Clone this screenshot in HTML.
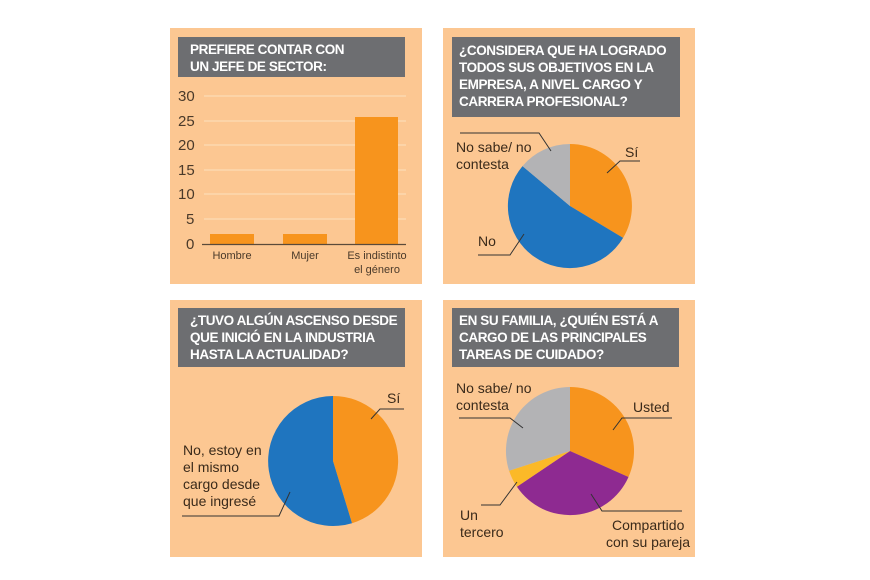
<!DOCTYPE html>
<html><head><meta charset="utf-8"><style>
body{margin:0;background:#fff;width:870px;height:580px;overflow:hidden}
svg{display:block}
text{font-family:"Liberation Sans",sans-serif}
.t{fill:#fff;font-weight:bold;font-size:13.5px;letter-spacing:-0.4px}
.l{fill:#3a2a1a;font-size:14px}
.a{fill:#4a3a2a;font-size:15px}
.s{fill:#4a3a2a;font-size:11px}
</style></head><body>
<svg id="s" width="870" height="580" xmlns="http://www.w3.org/2000/svg">
<rect width="870" height="580" fill="#fff"/>
<rect x="170" y="28" width="252" height="256" fill="#fcc792"/>
<rect x="443" y="28" width="252" height="256" fill="#fcc792"/>
<rect x="170" y="300" width="252" height="257" fill="#fcc792"/>
<rect x="443" y="300" width="252" height="257" fill="#fcc792"/>
<!-- panel 1 -->
<rect x="178" y="37" width="227" height="40" fill="#6d6e71"/>
<text class="t" x="190" y="54">PREFIERE CONTAR CON</text>
<text class="t" x="190" y="71">UN JEFE DE SECTOR:</text>
<g stroke="#fde0bd" stroke-width="1">
<line x1="204" y1="96" x2="406" y2="96"/><line x1="204" y1="121" x2="406" y2="121"/>
<line x1="204" y1="145" x2="406" y2="145"/><line x1="204" y1="170" x2="406" y2="170"/>
<line x1="204" y1="194" x2="406" y2="194"/><line x1="204" y1="219" x2="406" y2="219"/>
</g>
<text class="a" x="178" y="101">30</text><text class="a" x="178" y="126">25</text>
<text class="a" x="178" y="150">20</text><text class="a" x="178" y="175">15</text>
<text class="a" x="178" y="199">10</text><text class="a" x="186" y="224">5</text>
<text class="a" x="186" y="249">0</text>
<rect x="210" y="234" width="44" height="10" fill="#f7941d"/>
<rect x="283" y="234" width="44" height="10" fill="#f7941d"/>
<rect x="355" y="117" width="43" height="127" fill="#f7941d"/>
<line x1="202" y1="244.5" x2="406" y2="244.5" stroke="#5a4a3a" stroke-width="1.2"/>
<text class="s" x="232" y="259" text-anchor="middle">Hombre</text>
<text class="s" x="305" y="259" text-anchor="middle">Mujer</text>
<text class="s" x="377" y="259" text-anchor="middle">Es indistinto</text>
<text class="s" x="377" y="273" text-anchor="middle">el género</text>
<!-- panel 2 -->
<rect x="452" y="37" width="228" height="80" fill="#6d6e71"/>
<text class="t" x="459" y="55">¿CONSIDERA QUE HA LOGRADO</text>
<text class="t" x="459" y="72">TODOS SUS OBJETIVOS EN LA</text>
<text class="t" x="459" y="89">EMPRESA, A NIVEL CARGO Y</text>
<text class="t" x="459" y="106">CARRERA PROFESIONAL?</text>
<g id="p2"></g>
<text class="l" x="456" y="152">No sabe/ no</text><text class="l" x="456" y="169">contesta</text>
<text class="l" x="625" y="157">Sí</text><text class="l" x="478" y="246">No</text>
<polyline points="460,133 539,133 551,151" fill="none" stroke="#333" stroke-width="1"/>
<polyline points="640,161 620,161 607,173" fill="none" stroke="#333" stroke-width="1"/>
<polyline points="478,255 510,255 524,234" fill="none" stroke="#333" stroke-width="1"/>
<!-- panel 3 -->
<rect x="178" y="308" width="227" height="59" fill="#6d6e71"/>
<text class="t" x="190" y="325">¿TUVO ALGÚN ASCENSO DESDE</text>
<text class="t" x="190" y="342">QUE INICIÓ EN LA INDUSTRIA</text>
<text class="t" x="190" y="359">HASTA LA ACTUALIDAD?</text>
<g id="p3"></g>
<text class="l" x="387" y="403">Sí</text>
<polyline points="404,409 380,409 371,419" fill="none" stroke="#333" stroke-width="1"/>
<text class="l" x="183" y="455">No, estoy en</text><text class="l" x="183" y="472">el mismo</text>
<text class="l" x="183" y="489">cargo desde</text><text class="l" x="183" y="506">que ingresé</text>
<polyline points="182,516 279,516 290,492" fill="none" stroke="#333" stroke-width="1"/>
<!-- panel 4 -->
<rect x="452" y="308" width="227" height="59" fill="#6d6e71"/>
<text class="t" x="459" y="325">EN SU FAMILIA, ¿QUIÉN ESTÁ A</text>
<text class="t" x="459" y="342">CARGO DE LAS PRINCIPALES</text>
<text class="t" x="459" y="359">TAREAS DE CUIDADO?</text>
<g id="p4"></g>
<text class="l" x="456" y="393">No sabe/ no</text><text class="l" x="456" y="410">contesta</text>
<text class="l" x="633" y="412">Usted</text>
<text class="l" x="460" y="520">Un</text><text class="l" x="460" y="537">tercero</text>
<text class="l" x="612" y="530">Compartido</text><text class="l" x="606" y="547">con su pareja</text>
<polyline points="459,418 510,418 523,428" fill="none" stroke="#333" stroke-width="1"/>
<polyline points="672,418 622,418 613,430" fill="none" stroke="#333" stroke-width="1"/>
<polyline points="481,505 500,505 517,482" fill="none" stroke="#333" stroke-width="1"/>
<polyline points="682,511 602,511 591,494" fill="none" stroke="#333" stroke-width="1"/>
</svg>
<script>
function pie(id,cx,cy,r,segs){var g=document.getElementById(id),a0=0,h='';
segs.forEach(function(s){var a1=s[0],f=function(a){a=a*Math.PI/180;return (cx+r*Math.sin(a)).toFixed(1)+','+(cy-r*Math.cos(a)).toFixed(1)};
h+='<path d="M'+cx+','+cy+' L'+f(a0)+' A'+r+','+r+' 0 '+((a1-a0)>180?1:0)+' 1 '+f(a1)+' Z" fill="'+s[1]+'"/>';a0=a1;});g.innerHTML=h;}
pie('p2',570,206,62,[[121,'#f7941d'],[310,'#1f75bf'],[360,'#b3b3b5']]);
pie('p3',333,461,65,[[163,'#f7941d'],[360,'#1f75bf']]);
pie('p4',570,451,64,[[114,'#f7941d'],[236,'#8e2a91'],[252,'#fbb928'],[360,'#b3b3b5']]);
</script>
</body></html>
